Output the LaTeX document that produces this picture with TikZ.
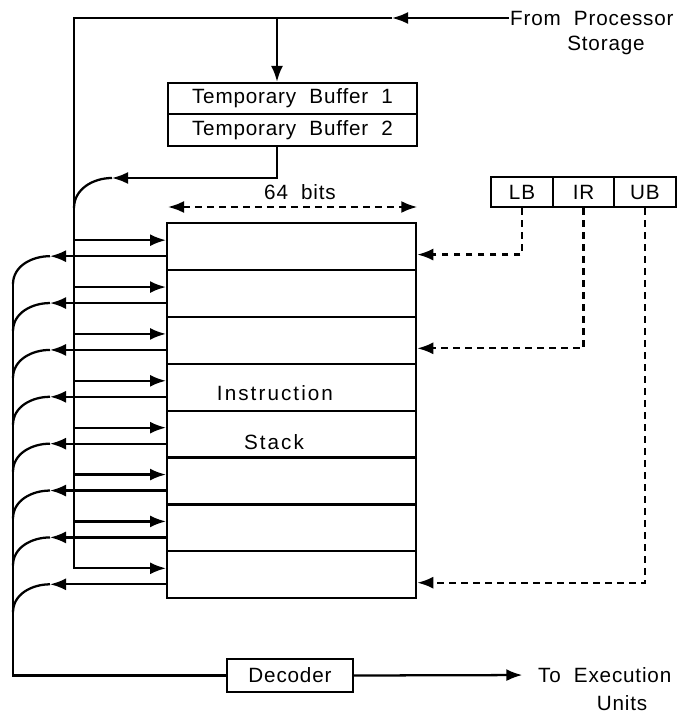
\documentclass[tikz,border=0pt]{standalone}
\usepackage{fontspec}
\setmainfont{Liberation Sans}[LetterSpace=4,WordSpace=2]
\newfontfamily\widefont{Liberation Sans}[LetterSpace=10,WordSpace=2]
\usetikzlibrary{arrows.meta,calc}

\begin{document}
\begin{tikzpicture}[x=0.75pt,y=0.75pt,
  line width=1.7pt,
  arr/.style={-{Latex[length=12pt,width=9pt]}},
  twoarr/.style={{Latex[length=12pt,width=9pt]}-{Latex[length=12pt,width=9pt]}},
  dsh/.style={dash pattern=on 5pt off 4pt},
  txt/.style={font=\fontsize{15.5}{18}\selectfont, inner sep=0pt},
  box/.style={txt, draw, inner sep=0pt},
  row/.style={draw, minimum width=186.75pt, minimum height=35.16pt,
              inner sep=0pt, anchor=north west}]

\useasboundingbox (0,0) rectangle (680,-717);

% instruction stack: eight 64-bit rows
\foreach \i in {1,...,8}
  \node[row] (r\i) at (166,{-222-(\i-1)*46.875}) {};
\node[txt, font=\fontsize{15.5}{18}\widefont] (ilab) at (275,-393) {Instruction};
\node[txt, font=\fontsize{15.5}{18}\widefont] (slab) at (274,-442) {Stack};

% temporary buffers
\node[box, minimum width=186.75pt, minimum height=23.25pt] (tb1) at (292.5,-98.5) {Temporary Buffer 1};
\node[box, minimum width=186.75pt, minimum height=24pt] (tb2) at (292.5,-130) {Temporary Buffer 2};

% pointer registers
\node[box, minimum width=46.5pt, minimum height=22.5pt] (lb) at (522,-192) {LB};
\node[box, minimum width=45.75pt, minimum height=22.5pt] (ir) at (583.5,-192) {IR};
\node[box, minimum width=46.5pt, minimum height=22.5pt] (ub) at (645,-192) {UB};

% decoder
\node[box, minimum width=94.5pt, minimum height=24.75pt] (dec) at (290,-675.5) {Decoder};

% labels
\node[txt, anchor=west] (from) at (509,-18) {From Processor};
\node[txt] (stor) at (606,-45) {Storage};
\node[txt, anchor=west] (exec) at (537,-675) {To Execution};
\node[txt] (units) at (622,-703) {Units};
\node[txt] (bits) at (300,-192) {64 bits};

% reference points of the buses
\coordinate (busTop) at (74,-18);
\coordinate (arrTop) at (392,-18);
\coordinate (tbx) at (277,-18);
\coordinate (fbTip) at (112,-178);
\coordinate (lt) at (50,0);
\coordinate (ob) at (13,0);

% per-row connection points
\foreach \i in {1,...,8}{
  \coordinate (in\i) at ($(r\i.west)+(0,6.4)$);
  \coordinate (out\i) at ($(r\i.west)+(0,-9.6)$);
  \coordinate (dr\i) at ($(r\i.east)+(0,-8)$);
}

% input from processor storage
\draw[arr] (from.west) -- (arrTop);
\draw[arr] (arrTop) -- (busTop) -- (in8 -| busTop) -- (in8);
\draw[arr] (tbx) -- (tbx |- tb1.north);

% feedback from the temporary buffers onto the inner bus
\draw[arr] (tbx |- tb2.south) |- (fbTip);
\draw (fbTip) to[out=180,in=90] ($(busTop |- fbTip)+(0,-30)$);

% bus into each row
\foreach \i in {1,...,7}
  \draw[arr] (in\i -| busTop) -- (in\i);

% each row out to the decoder bus
\foreach \i in {1,...,8}{
  \draw[arr] (out\i) -- (out\i -| lt);
  \draw (out\i -| lt) to[out=180,in=90] ($(out\i -| ob)+(0,-28)$);
}
\draw ($(out1 -| ob)+(0,-28)$) |- (dec.west);
\draw[arr, shorten >=11pt] (dec.east) -- (exec.west);

% width marker
\draw[twoarr, dsh] ($(r1.north west)+(2,15)$) -- ($(r1.north east)+(0,15)$);

% pointer registers select rows
\draw[arr, dsh] (lb.south) |- (dr1);
\draw[arr, dsh] (ir.south) |- (dr3);
\draw[arr, dsh] (ub.south) |- (dr8);

\end{tikzpicture}
\end{document}
